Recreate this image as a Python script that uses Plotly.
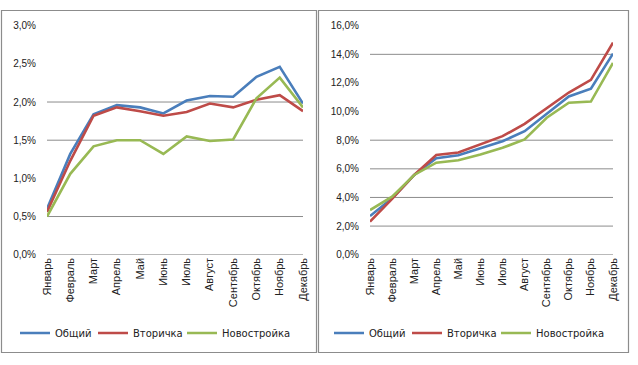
import plotly.graph_objects as go

months = ["Январь", "Февраль", "Март", "Апрель", "Май", "Июнь", "Июль",
          "Август", "Сентябрь", "Октябрь", "Ноябрь", "Декабрь"]
series_names = ["Общий", "Вторичка", "Новостройка"]
colors = ["#4A7EBB", "#BE4B48", "#98B954"]

# Left chart (monthly change, %)
left_total = [0.60, 1.32, 1.84, 1.96, 1.93, 1.85, 2.02, 2.08, 2.07, 2.33, 2.46, 1.98]
left_secondary = [0.56, 1.23, 1.82, 1.93, 1.88, 1.82, 1.87, 1.98, 1.93, 2.03, 2.09, 1.88]
left_new = [0.50, 1.06, 1.42, 1.50, 1.50, 1.32, 1.55, 1.49, 1.51, 2.05, 2.32, 1.93]

# Right chart (cumulative change, %)
right_total = [2.70, 3.95, 5.57, 6.74, 6.95, 7.43, 7.93, 8.63, 9.84, 11.06, 11.60, 14.05]
right_secondary = [2.31, 3.90, 5.57, 6.97, 7.14, 7.70, 8.28, 9.14, 10.21, 11.33, 12.22, 14.82]
right_new = [3.12, 4.05, 5.57, 6.43, 6.60, 7.00, 7.47, 8.05, 9.57, 10.62, 10.70, 13.40]

left_ticks = [0.0, 0.5, 1.0, 1.5, 2.0, 2.5, 3.0]
left_tick_labels = ["0,0%", "0,5%", "1,0%", "1,5%", "2,0%", "2,5%", "3,0%"]
right_ticks = [0, 2, 4, 6, 8, 10, 12, 14, 16]
right_tick_labels = ["0,0%", "2,0%", "4,0%", "6,0%", "8,0%", "10,0%", "12,0%", "14,0%", "16,0%"]
left_grid_visible = [0.0, 0.5, 1.5, 2.0]
right_grid_visible = [0, 2, 4, 6, 8, 14]

W, H = 638, 365
FONT = "Liberation Sans"
LEG_FONT = "DejaVu Sans"
GRID = "#8C8C8C"
legend_widths = [33, 44, 70]

fig = go.Figure()
for name, vals, col, lw in zip(series_names, [left_total, left_secondary, left_new], colors, legend_widths):
    fig.add_trace(go.Scatter(x=months, y=vals, name=name, mode="lines",
                             line=dict(color=col, width=2.6), xaxis="x", yaxis="y",
                             legend="legend", legendwidth=lw))
for name, vals, col, lw in zip(series_names, [right_total, right_secondary, right_new], colors, legend_widths):
    fig.add_trace(go.Scatter(x=months, y=vals, name=name, mode="lines",
                             line=dict(color=col, width=2.6), xaxis="x2", yaxis="y2",
                             legend="legend2", legendwidth=lw))

def px_x(p):
    return p / W

def px_y(p):
    return 1 - p / H

ydom = [px_y(254.7), px_y(25.7)]
xaxis_common = dict(type="category", showgrid=False, showline=False, ticks="",
                    tickangle=-90, tickfont=dict(family=FONT, size=11, color="#222"),
                    zeroline=False, fixedrange=True, automargin=False)
yaxis_common = dict(showgrid=False, showline=False, zeroline=False, ticks="",
                    tickmode="array", ticklabelstandoff=10, automargin=False,
                    tickfont=dict(family=FONT, size=10, color="#222"), fixedrange=True)

shapes = []
# panel borders
shapes.append(dict(type="rect", xref="paper", yref="paper",
                   x0=px_x(1.5), x1=px_x(316.5), y0=px_y(352.5), y1=px_y(10.5),
                   line=dict(color=GRID, width=1.2), layer="below"))
shapes.append(dict(type="rect", xref="paper", yref="paper",
                   x0=px_x(318.5), x1=px_x(628.5), y0=px_y(352.5), y1=px_y(10.5),
                   line=dict(color=GRID, width=1.2), layer="below"))
for v in left_grid_visible:
    shapes.append(dict(type="line", xref="x domain", yref="y", x0=0, x1=1, y0=v, y1=v,
                       line=dict(color=GRID, width=1), layer="below"))
for v in right_grid_visible:
    shapes.append(dict(type="line", xref="x2 domain", yref="y2", x0=0, x1=1, y0=v, y1=v,
                       line=dict(color=GRID, width=1), layer="below"))

legend_common = dict(orientation="h", xanchor="left", yanchor="middle",
                     font=dict(family=LEG_FONT, size=10, color="#222"),
                     bgcolor="rgba(0,0,0,0)", itemwidth=30, tracegroupgap=0)

fig.update_layout(
    width=W, height=H,
    margin=dict(l=0, r=0, t=0, b=0),
    paper_bgcolor="white", plot_bgcolor="white",
    font=dict(family=FONT, size=11, color="#222"),
    xaxis=dict(domain=[px_x(47), px_x(303)], anchor="y", **xaxis_common),
    yaxis=dict(domain=ydom, range=[0, 3.0], tickvals=left_ticks, ticktext=left_tick_labels,
               anchor="x", **yaxis_common),
    xaxis2=dict(domain=[px_x(370), px_x(613)], anchor="y2", **xaxis_common),
    yaxis2=dict(domain=ydom, range=[0, 16], tickvals=right_ticks, ticktext=right_tick_labels,
                anchor="x2", **yaxis_common),
    legend=dict(x=px_x(15), y=px_y(333), **legend_common),
    legend2=dict(x=px_x(329), y=px_y(333), **legend_common),
    shapes=shapes,
    showlegend=True,
    hovermode=False,
)

fig.write_html("out.html",
               config={"displayModeBar": False},
               post_script="document.body.style.margin='0';document.body.style.overflow='hidden';")
